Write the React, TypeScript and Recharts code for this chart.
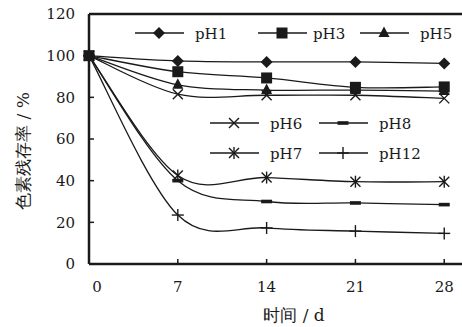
import React from 'react';
import { LineChart, Line, XAxis, YAxis, ReferenceLine } from 'recharts';

const days = [0, 7, 14, 21, 28];
const pH1 = [100, 97.5, 97, 97, 96.3];
const pH3 = [100, 92.3, 89.3, 84.8, 85];
const pH5 = [100, 86, 83.5, 83.5, 83];
const pH6 = [100, 81.5, 81, 81, 79.5];
const pH7 = [100, 42.5, 41.5, 39.5, 39.5];
const pH8 = [100, 40, 30, 29.3, 28.5];
const pH12 = [100, 23.5, 17.3, 15.8, 14.7];
const xTicks = [0, 7, 14, 21, 28];
const yTicks = [0, 20, 40, 60, 80, 100, 120];

const chartData = days.map((d, i) => ({
  day: d,
  pH1: pH1[i],
  pH3: pH3[i],
  pH5: pH5[i],
  pH6: pH6[i],
  pH7: pH7[i],
  pH8: pH8[i],
  pH12: pH12[i],
}));

const INK = '#1a1a1a';
const FONT = '"DejaVu Serif", serif';
const tickTxt = { fontFamily: FONT, fontSize: 15 };
const axisTxt = { fontFamily: FONT, fontSize: 17 };

// smooth curve like Excel's "smoothed line" (catmull-rom style bezier)
const smoothCurve: any = (ctx: any) => {
  let pts: number[][] = [];
  return {
    areaStart() {},
    areaEnd() {},
    lineStart() {
      pts = [];
    },
    point(x: number, y: number) {
      pts.push([+x, +y]);
    },
    lineEnd() {
      if (!pts.length) return;
      ctx.moveTo(pts[0][0], pts[0][1]);
      for (let i = 0; i < pts.length - 1; i++) {
        const p0 = pts[Math.max(i - 1, 0)];
        const p1 = pts[i];
        const p2 = pts[i + 1];
        const p3 = pts[Math.min(i + 2, pts.length - 1)];
        ctx.bezierCurveTo(
          p1[0] + (p2[0] - p0[0]) / 6,
          p1[1] + (p2[1] - p0[1]) / 6,
          p2[0] - (p3[0] - p1[0]) / 6,
          p2[1] - (p3[1] - p1[1]) / 6,
          p2[0],
          p2[1]
        );
      }
    },
  };
};

type MarkerKind = 'diamond' | 'square' | 'triangle' | 'cross' | 'star' | 'dash' | 'plus';

const Marker = ({ kind, cx, cy }: { kind: MarkerKind; cx: number; cy: number }) => {
  switch (kind) {
    case 'diamond':
      return <polygon points={`${cx},${cy - 6} ${cx + 6},${cy} ${cx},${cy + 6} ${cx - 6},${cy}`} fill={INK} />;
    case 'square':
      return <rect x={cx - 5.5} y={cy - 5.5} width={11} height={11} fill={INK} />;
    case 'triangle':
      return <polygon points={`${cx},${cy - 6.5} ${cx + 5.5},${cy + 4} ${cx - 5.5},${cy + 4}`} fill={INK} />;
    case 'cross':
      return (
        <g stroke={INK} strokeWidth={1.4}>
          <line x1={cx - 5} y1={cy - 5} x2={cx + 5} y2={cy + 5} />
          <line x1={cx - 5} y1={cy + 5} x2={cx + 5} y2={cy - 5} />
        </g>
      );
    case 'star':
      return (
        <g stroke={INK} strokeWidth={1.4}>
          <line x1={cx - 5} y1={cy - 5} x2={cx + 5} y2={cy + 5} />
          <line x1={cx - 5} y1={cy + 5} x2={cx + 5} y2={cy - 5} />
          <line x1={cx} y1={cy - 6} x2={cx} y2={cy + 6} />
        </g>
      );
    case 'dash':
      return <rect x={cx - 5.5} y={cy - 1.8} width={11} height={3.6} fill={INK} />;
    case 'plus':
      return (
        <g stroke={INK} strokeWidth={1.4}>
          <line x1={cx - 6} y1={cy} x2={cx + 6} y2={cy} />
          <line x1={cx} y1={cy - 6} x2={cx} y2={cy + 6} />
        </g>
      );
  }
  return null;
};

const series: { key: string; kind: MarkerKind }[] = [
  { key: 'pH1', kind: 'diamond' },
  { key: 'pH3', kind: 'square' },
  { key: 'pH5', kind: 'triangle' },
  { key: 'pH6', kind: 'cross' },
  { key: 'pH8', kind: 'dash' },
  { key: 'pH7', kind: 'star' },
  { key: 'pH12', kind: 'plus' },
];

// legend slots inside the plot: [lineStart, y, textX]
const legendSlots: Record<string, number[]> = {
  pH1: [135, 33, 195],
  pH3: [258, 33, 313],
  pH5: [360, 33, 420],
  pH6: [210, 123, 270],
  pH8: [319, 123, 379],
  pH7: [210, 153, 270],
  pH12: [319, 153, 379],
};

const AXIS_X = 89;
const AXIS_Y = 264;

const XTick = (props: any) => {
  const { x, y, payload } = props;
  const v = payload.value;
  return (
    <g>
      {v !== 0 && <line x1={x} y1={AXIS_Y} x2={x} y2={AXIS_Y - 5} stroke={INK} strokeWidth={1.5} />}
      <text x={x + (v === 0 ? 8 : 0)} y={y + 12} textAnchor="middle" style={tickTxt} fill={INK}>
        {v}
      </text>
    </g>
  );
};

const YTick = (props: any) => {
  const { x, y, payload } = props;
  const v = payload.value;
  return (
    <g>
      {v !== 0 && v !== 120 && <line x1={AXIS_X} y1={y} x2={AXIS_X + 5} y2={y} stroke={INK} strokeWidth={1.5} />}
      <text x={x} y={y} dy="0.36em" textAnchor="end" style={tickTxt} fill={INK}>
        {v}
      </text>
    </g>
  );
};

export default function App() {
  return (
    <div style={{ position: 'absolute', left: 0, top: 0, width: 462, height: 327, background: '#fff' }}>
      <LineChart width={462} height={327} data={chartData} margin={{ top: 14, right: 0, left: 0, bottom: 0 }}>
        <XAxis
          dataKey="day"
          type="number"
          domain={[0, 29.4]}
          ticks={xTicks}
          height={63}
          tickSize={0}
          tickMargin={16}
          tickLine={false}
          tick={<XTick />}
          axisLine={{ stroke: INK, strokeWidth: 2.5 }}
          label={{
            content: () => (
              <text x={294} y={321} textAnchor="middle" style={axisTxt} fill={INK}>
                时间 / d
              </text>
            ),
          }}
        />
        <YAxis
          type="number"
          domain={[0, 120]}
          ticks={yTicks}
          width={89}
          tickSize={0}
          tickMargin={14}
          tickLine={false}
          tick={<YTick />}
          axisLine={{ stroke: INK, strokeWidth: 2.5 }}
          label={{
            content: () => (
              <text
                x={23}
                y={151}
                transform="rotate(-90 23 151)"
                textAnchor="middle"
                dominantBaseline="central"
                style={axisTxt}
                fill={INK}
              >
                色素残存率 / %
              </text>
            ),
          }}
        />
        <ReferenceLine y={120} stroke={INK} strokeWidth={2.5} />
        {series.map((s) => (
          <Line
            key={s.key}
            dataKey={s.key}
            type={smoothCurve}
            stroke={INK}
            strokeWidth={1.3}
            isAnimationActive={false}
            dot={(p: any) => <Marker key={`${s.key}-${p.index}`} kind={s.kind} cx={p.cx} cy={p.cy} />}
            activeDot={false}
          />
        ))}
      </LineChart>
      <svg width={462} height={327} style={{ position: 'absolute', left: 0, top: 0, pointerEvents: 'none' }}>
        {series.map((s) => {
          const [lx, ly, tx] = legendSlots[s.key];
          return (
            <g key={s.key}>
              <line x1={lx} y1={ly} x2={lx + 49} y2={ly} stroke={INK} strokeWidth={1.3} />
              <Marker kind={s.kind} cx={lx + 24} cy={ly} />
              <text x={tx} y={ly + 6} style={tickTxt} fill={INK}>
                {s.key}
              </text>
            </g>
          );
        })}
      </svg>
    </div>
  );
}
